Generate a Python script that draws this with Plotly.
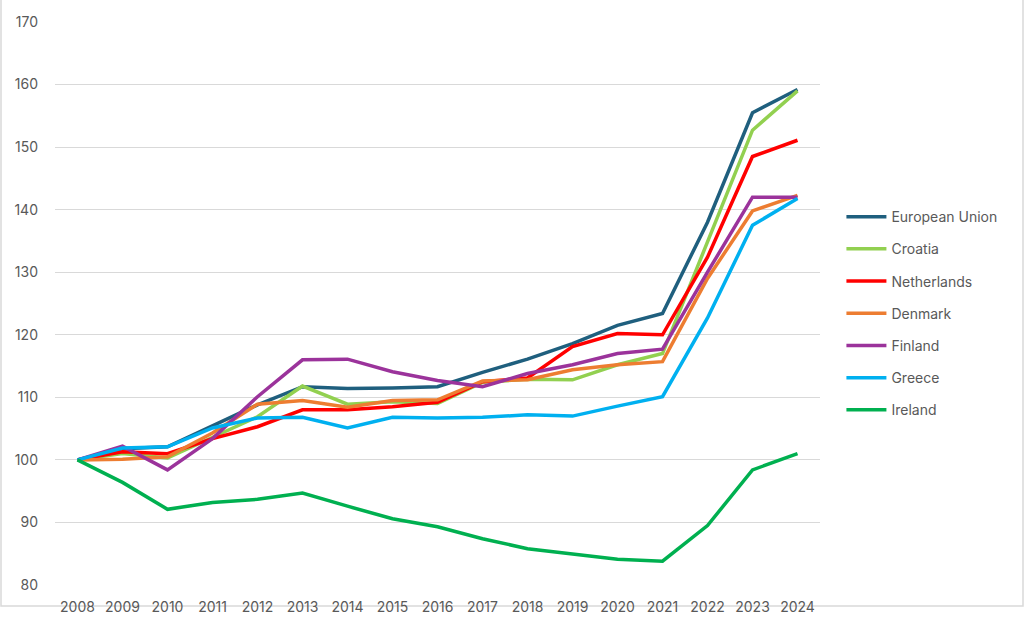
import plotly.graph_objects as go

# House price index, 2008 = 100
years = list(range(2008, 2025))

european_union = [100, 101.8, 102.1, 105.4, 108.8, 111.7, 111.4, 111.5, 111.7, 114.0,
                  116.1, 118.6, 121.5, 123.4, 138.0, 155.5, 159.2]
croatia = [100, 101.0, 100.3, 103.6, 106.9, 111.8, 108.9, 109.3, 109.0, 112.4,
           112.9, 112.8, 115.2, 117.0, 135.0, 152.7, 159.0]
netherlands = [100, 101.3, 101.0, 103.4, 105.3, 108.0, 108.0, 108.5, 109.2, 112.5,
               113.1, 118.1, 120.2, 120.0, 132.4, 148.5, 151.1]
denmark = [100, 100.1, 100.5, 104.3, 108.9, 109.5, 108.4, 109.5, 109.6, 112.6,
           112.8, 114.4, 115.2, 115.7, 129.0, 139.8, 142.3]
finland = [100, 102.2, 98.4, 103.4, 110.1, 116.0, 116.1, 114.1, 112.7, 111.7,
           113.8, 115.2, 117.0, 117.7, 130.0, 142.0, 142.0]
greece = [100, 101.9, 102.1, 105.1, 106.7, 106.8, 105.1, 106.8, 106.7, 106.8,
          107.2, 107.0, 108.6, 110.1, 122.7, 137.5, 141.8]
ireland = [100, 96.4, 92.1, 93.2, 93.7, 94.7, 92.6, 90.6, 89.3, 87.4,
           85.8, 85.0, 84.1, 83.8, 89.5, 98.4, 101.0]

series = [
    ('European Union', european_union, '#1F5F7E'),
    ('Croatia', croatia, '#92D050'),
    ('Netherlands', netherlands, '#FF0000'),
    ('Denmark', denmark, '#ED7D31'),
    ('Finland', finland, '#9B339B'),
    ('Greece', greece, '#00B0F0'),
    ('Ireland', ireland, '#00B050'),
]

fig = go.Figure()
for name, vals, col in series:
    fig.add_trace(go.Scatter(x=years, y=vals, name=name, mode='lines',
                             legendgroup=name,
                             line=dict(color=col, width=3.5)))

W, H = 1024, 630
L, R, T, B = 55, 204, 22, 45
pw, ph = W - L - R, H - T - B

fig.update_layout(
    width=W, height=H,
    margin=dict(l=L, r=R, t=T, b=B),
    paper_bgcolor='white', plot_bgcolor='white',
    font=dict(family='Inter, Lato, sans-serif', size=14, color='#595959'),
    showlegend=True,
    legend=dict(x=1.028, xanchor='left', y=0.682, yanchor='top',
                font=dict(size=14, color='#595959'),
                tracegroupgap=11, itemwidth=40,
                bgcolor='rgba(0,0,0,0)'),
    xaxis=dict(range=[2007.5, 2024.5], tickmode='array', tickvals=years,
               ticktext=[str(y) for y in years], showgrid=False,
               showline=False, zeroline=False, ticklabelstandoff=12,
               tickfont=dict(size=14, color='#595959')),
    yaxis=dict(range=[80, 170], dtick=10, showgrid=True, gridcolor='#D9D9D9',
               gridwidth=1, zeroline=False, showline=False,
               ticklabelstandoff=16,
               tickfont=dict(size=14, color='#595959')),
)

# thin grey frame round the whole picture
fig.add_shape(type='rect', xref='paper', yref='paper',
              x0=(1 - L) / pw, x1=(W - 1 - L) / pw,
              y0=(H - T - (H - 1)) / ph, y1=(H - T - 1) / ph,
              line=dict(color='#D9D9D9', width=1.5), layer='below')

# drop the browser's default body margin so the chart sits flush in the window
fig.write_html('out.html', config={'displayModeBar': False},
               post_script="document.body.style.margin='0';")
